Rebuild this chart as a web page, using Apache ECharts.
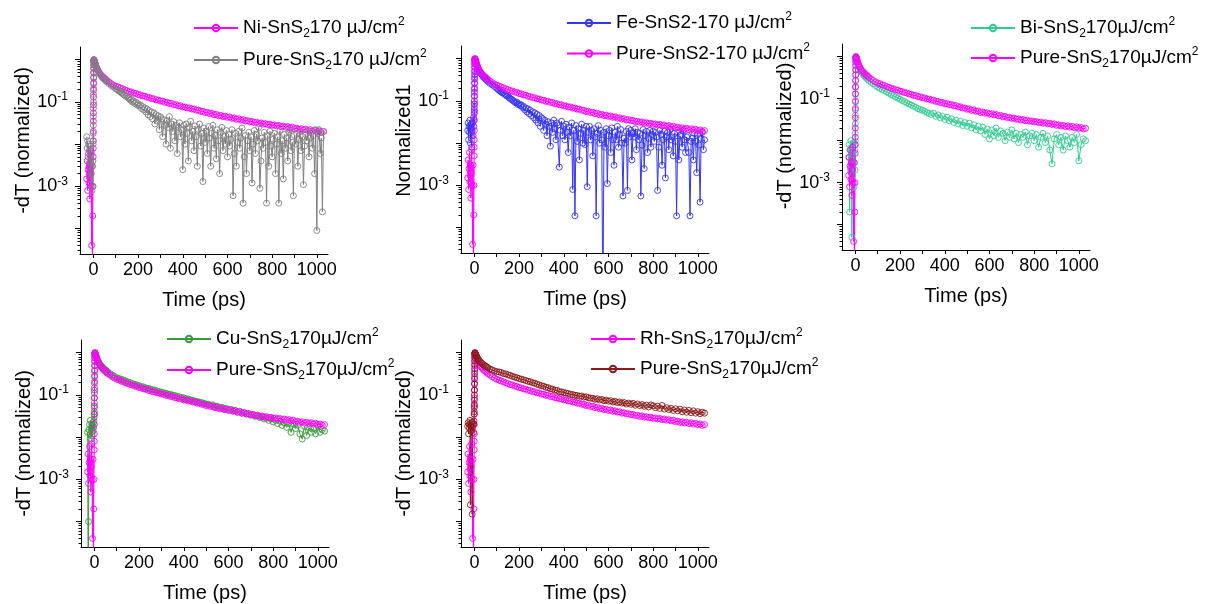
<!DOCTYPE html>
<html><head><meta charset="utf-8">
<script src="https://cdn.jsdelivr.net/npm/echarts@6/dist/echarts.min.js"></script>
<style>html,body{margin:0;padding:0;background:#fff}#c{width:1208px;height:604px}</style>
</head><body><div id="c"></div>
<script>
// ---------------- DATA ----------------
// time axis, ps: common head (pre-zero, rise, early decay) + tails
const timeHead = [
 -30,-28,-26,-24,-22,-20,-18,-16,-14,-12,-10,-8,-6,-4,-3,-2,-1,
 -0.8,-0.6,-0.4,-0.2,0,0.2,0.4,0.6,0.8,1,1.2,1.4,1.6,1.8,2,2.5,3,
 4,6,8,10,13,16,20,25,30,35,40,45,50,55,60,70,80,90,100];
const timeTail10 = [
 110,120,130,140,150,160,170,180,190,200,
 210,220,230,240,250,260,270,280,290,300,
 310,320,330,340,350,360,370,380,390,400,
 410,420,430,440,450,460,470,480,490,500,
 510,520,530,540,550,560,570,580,590,600,
 610,620,630,640,650,660,670,680,690,700,
 710,720,730,740,750,760,770,780,790,800,
 810,820,830,840,850,860,870,880,890,900,
 910,920,930,940,950,960,970,980,990,1000,
 1010,1020,1030];
const timeTail5 = [
 105,110,115,120,125,130,135,140,145,150,155,160,165,170,175,180,185,190,195,200,
 205,210,215,220,225,230,235,240,245,250,255,260,265,270,275,280,285,290,295,300,
 305,310,315,320,325,330,335,340,345,350,355,360,365,370,375,380,385,390,395,400,
 405,410,415,420,425,430,435,440,445,450,455,460,465,470,475,480,485,490,495,500,
 505,510,515,520,525,530,535,540,545,550,555,560,565,570,575,580,585,590,595,600,
 605,610,615,620,625,630,635,640,645,650,655,660,665,670,675,680,685,690,695,700,
 705,710,715,720,725,730,735,740,745,750,755,760,765,770,775,780,785,790,795,800,
 805,810,815,820,825,830,835,840,845,850,855,860,865,870,875,880,885,890,895,900,
 905,910,915,920,925,930,935,940,945,950,955,960,965,970,975,980,985,990,995,1000,
 1005,1010,1015,1020,1025,1030];

// magenta trace (same curve in all five panels) — head + 10 ps tail
const magentaTrace = [
 0.0015,0.004,0.0008,0.0025,0.006,0.0012,0.003,0.0005,0.002,0.007,0.001,0.00004,0.003,0.000001,0.0002,0.001,0.005,
 0.008,0.012,0.02,0.035,0.055,0.085,0.13,0.19,0.27,0.37,0.49,0.62,0.75,0.87,0.96,1.0,0.97,
 0.93,0.86,0.8,0.75,0.68,0.62,0.56,0.5,0.46,0.43,0.4,0.38,0.36,0.34,0.32,0.295,0.27,0.25,0.235,
 0.226,0.213,0.206,0.193,0.186,0.176,0.172,0.162,0.159,0.15,
 0.147,0.139,0.137,0.129,0.127,0.12,0.119,0.112,0.111,0.105,
 0.104,0.098,0.098,0.092,0.092,0.086,0.086,0.081,0.081,0.076,
 0.076,0.072,0.072,0.068,0.068,0.064,0.064,0.06,0.06,0.056,
 0.057,0.053,0.054,0.05,0.051,0.047,0.048,0.045,0.046,0.043,
 0.044,0.041,0.042,0.039,0.04,0.037,0.038,0.0355,0.036,0.034,
 0.0345,0.0325,0.033,0.031,0.0318,0.0298,0.0305,0.029,0.0295,0.028,
 0.0285,0.027,0.0277,0.026,0.0268,0.0252,0.026,0.0243,0.0252,0.0232,
 0.0238,0.0224,0.0231,0.0217,0.0225,0.021,0.0219,0.0204,0.0213,0.0198,
 0.0205,0.019,0.0198];

// Pure-SnS2 (grey, panel 1) — head + 5 ps tail
const greyPure = [
 0.015,0.008,0.012,0.005,0.01,0.003,0.007,0.0015,0.009,0.004,0.002,0.006,0.0008,0.003,0.001,0.004,0.01,
 0.012,0.018,0.028,0.045,0.07,0.1,0.15,0.21,0.29,0.39,0.5,0.63,0.76,0.88,0.96,1.0,0.97,
 0.93,0.86,0.8,0.74,0.67,0.61,0.55,0.49,0.45,0.41,0.38,0.36,0.34,0.32,0.3,0.27,0.245,0.225,0.205,
 0.2,0.19,0.18,0.175,0.165,0.16,0.15,0.145,0.135,0.14,0.125,0.12,0.11,0.115,0.1,0.105,0.092,0.098,0.085,0.09,
 0.08,0.085,0.07,0.078,0.065,0.072,0.058,0.068,0.05,0.062,0.045,0.058,0.04,0.055,0.03,0.05,0.035,0.047,0.022,0.044,
 0.04,0.015,0.038,0.028,0.01,0.036,0.025,0.045,0.008,0.03,0.02,0.034,0.012,0.028,0.006,0.025,0.032,0.015,0.022,0.0025,
 0.028,0.01,0.03,0.018,0.004,0.025,0.035,0.012,0.02,0.007,0.027,0.015,0.003,0.022,0.03,0.009,0.018,0.0013,0.024,0.011,
 0.02,0.006,0.026,0.014,0.003,0.018,0.028,0.008,0.016,0.0045,0.022,0.012,0.002,0.019,0.025,0.007,0.015,0.01,0.021,0.005,
 0.017,0.009,0.013,0.022,0.0006,0.006,0.018,0.003,0.011,0.02,0.008,0.014,0.024,0.0004,0.005,0.016,0.002,0.012,0.019,0.007,
 0.015,0.0012,0.01,0.021,0.006,0.017,0.012,0.025,0.0009,0.004,0.014,0.008,0.019,0.011,0.0004,0.016,0.003,0.02,0.009,0.005,
 0.013,0.018,0.002,0.01,0.015,0.0004,0.021,0.006,0.012,0.0015,0.017,0.008,0.014,0.004,0.019,0.022,0.007,0.011,0.0006,0.016,
 0.01,0.018,0.003,0.013,0.02,0.007,0.015,0.0011,0.009,0.017,0.012,0.021,0.005,0.014,0.019,0.008,0.016,0.002,0.022,0.00009,
 0.018,0.022,0.006,0.014,0.00025,0.02];

// Fe-SnS2 (blue, panel 2) — head + 5 ps tail
const feSnS2 = [
 0.02,0.03,0.012,0.025,0.018,0.035,0.01,0.022,0.028,0.008,0.02,0.03,0.015,0.04,0.025,0.035,0.05,
 0.06,0.07,0.085,0.1,0.13,0.16,0.2,0.26,0.33,0.42,0.52,0.63,0.75,0.86,0.95,1.0,0.96,
 0.92,0.85,0.79,0.73,0.66,0.6,0.54,0.48,0.44,0.4,0.37,0.35,0.33,0.31,0.29,0.26,0.24,0.22,0.2,
 0.19,0.18,0.17,0.165,0.155,0.16,0.145,0.14,0.13,0.135,0.12,0.115,0.11,0.105,0.1,0.095,0.09,0.093,0.082,0.085,
 0.078,0.08,0.07,0.074,0.062,0.068,0.055,0.065,0.05,0.06,0.045,0.055,0.04,0.052,0.035,0.048,0.03,0.045,0.025,0.04,
 0.038,0.02,0.035,0.028,0.015,0.032,0.025,0.0085,0.03,0.018,0.035,0.022,0.012,0.03,0.027,0.0027,0.02,0.033,0.015,0.025,
 0.012,0.028,0.018,0.006,0.024,0.015,0.03,0.0008,0.02,0.00019,0.026,0.011,0.022,0.004,0.017,0.028,0.01,0.02,0.0093,0.025,
 0.00093,0.018,0.025,0.012,0.02,0.005,0.022,0.014,0.00019,0.017,0.026,0.01,0.02,0.012,0.000001,0.018,0.008,0.022,0.0011,0.015,
 0.02,0.006,0.023,0.012,0.003,0.018,0.012,0.025,0.008,0.016,0.021,0.01,0.00056,0.013,0.01,0.019,0.00076,0.022,0.014,0.02,
 0.004,0.017,0.014,0.022,0.007,0.018,0.012,0.017,0.00056,0.009,0.021,0.0025,0.015,0.019,0.006,0.013,0.02,0.008,0.016,0.019,
 0.011,0.018,0.014,0.00076,0.008,0.02,0.016,0.003,0.012,0.019,0.0015,0.014,0.018,0.007,0.021,0.012,0.014,0.005,0.017,0.011,
 0.00019,0.018,0.004,0.015,0.016,0.008,0.02,0.012,0.006,0.014,0.015,0.006,0.00019,0.011,0.013,0.004,0.017,0.011,0.002,0.016,
 0.009,0.0004,0.013,0.018,0.007,0.012];

// Bi-SnS2 (teal, panel 3) — head + 10 ps tail
const biSnS2 = [
 0.004,0.008,0.0002,0.006,0.002,0.01,0.0035,0.00005,0.007,0.0015,0.005,0.009,0.0008,0.003,0.006,0.002,0.008,
 0.01,0.015,0.025,0.04,0.06,0.09,0.13,0.19,0.27,0.37,0.48,0.61,0.74,0.86,0.95,1.0,0.96,
 0.91,0.84,0.78,0.72,0.65,0.58,0.52,0.46,0.42,0.38,0.35,0.33,0.31,0.29,0.27,0.245,0.225,0.205,0.19,
 0.175,0.165,0.155,0.145,0.135,0.125,0.118,0.11,0.103,0.097,
 0.09,0.085,0.08,0.074,0.07,0.066,0.062,0.058,0.055,0.053,
 0.05,0.047,0.045,0.042,0.045,0.038,0.041,0.035,0.038,0.032,
 0.036,0.03,0.033,0.027,0.031,0.025,0.029,0.023,0.027,0.022,
 0.026,0.02,0.024,0.018,0.022,0.017,0.021,0.014,0.019,0.011,
 0.018,0.013,0.02,0.012,0.017,0.015,0.01,0.016,0.012,0.018,
 0.011,0.015,0.009,0.014,0.012,0.016,0.008,0.013,0.015,0.01,
 0.014,0.007,0.012,0.015,0.009,0.013,0.006,0.0028,0.011,0.014,
 0.008,0.012,0.006,0.013,0.01,0.007,0.012,0.009,0.014,0.0033,
 0.008,0.011,0.01];

// Cu-SnS2 (green, panel 4) — head + 10 ps tail
const cuSnS2 = [
 0.013,0.000001,0.0001,0.015,0.02,0.012,0.025,0.009,0.016,0.02,0.011,0.018,0.014,0.022,0.017,0.025,0.03,
 0.035,0.04,0.05,0.065,0.085,0.11,0.15,0.21,0.29,0.39,0.5,0.63,0.76,0.88,0.96,1.0,0.97,
 0.94,0.87,0.81,0.76,0.7,0.64,0.58,0.53,0.49,0.46,0.43,0.41,0.39,0.37,0.35,0.32,0.295,0.275,0.255,
 0.245,0.235,0.225,0.213,0.203,0.195,0.186,0.178,0.172,0.165,
 0.158,0.155,0.147,0.143,0.138,0.132,0.13,0.124,0.12,0.117,
 0.112,0.11,0.105,0.103,0.099,0.097,0.092,0.09,0.087,0.085,
 0.081,0.08,0.076,0.075,0.071,0.07,0.067,0.066,0.063,0.061,
 0.06,0.057,0.058,0.053,0.054,0.05,0.051,0.047,0.048,0.044,
 0.046,0.042,0.043,0.039,0.041,0.037,0.038,0.035,0.036,0.033,
 0.034,0.031,0.032,0.029,0.03,0.027,0.028,0.025,0.027,0.023,
 0.025,0.021,0.024,0.019,0.022,0.017,0.021,0.013,0.02,0.016,
 0.019,0.012,0.009,0.018,0.011,0.017,0.013,0.016,0.012,0.018,
 0.013,0.015,0.014];

// Pure-SnS2 (brown, panel 5) — head + 10 ps tail
const brownPure = [
 0.018,0.022,0.012,0.02,0.016,0.025,0.00025,0.019,0.014,0.023,0.00015,0.017,0.021,0.013,0.02,0.024,0.035,
 0.04,0.05,0.06,0.075,0.1,0.13,0.18,0.24,0.32,0.42,0.53,0.65,0.77,0.88,0.96,1.0,0.98,
 0.95,0.9,0.86,0.82,0.77,0.72,0.67,0.62,0.58,0.55,0.52,0.5,0.48,0.46,0.44,0.41,0.39,0.37,0.355,
 0.35,0.34,0.32,0.315,0.3,0.29,0.275,0.265,0.255,0.245,
 0.235,0.228,0.22,0.21,0.205,0.195,0.19,0.18,0.172,0.165,
 0.16,0.152,0.148,0.14,0.137,0.13,0.128,0.12,0.118,0.114,
 0.11,0.108,0.103,0.102,0.098,0.097,0.093,0.094,0.089,0.09,
 0.086,0.084,0.083,0.079,0.081,0.076,0.078,0.073,0.075,0.071,
 0.073,0.068,0.07,0.066,0.068,0.064,0.066,0.061,0.064,0.06,
 0.063,0.057,0.061,0.056,0.059,0.054,0.057,0.052,0.058,0.055,
 0.05,0.054,0.048,0.056,0.046,0.05,0.045,0.048,0.043,0.047,
 0.042,0.046,0.04,0.044,0.039,0.043,0.038,0.042,0.037,0.04,
 0.036,0.039,0.037];

const xLabelValues = [0, 200, 400, 600, 800, 1000];
const xTickValues = [0, 100, 200, 300, 400, 500, 600, 700, 800, 900, 1000];
const yLabelValues = [0.1, 0.001];
const yDecadeTicks = [1, 0.1, 0.01, 0.001, 0.0001];
const X_MIN = -60, X_MAX = 1050, Y_MIN = 2.5e-5, Y_MAX = 2;

// ---------------- LAYOUT / STYLE ----------------
const FONT = '"Liberation Sans", Arial, sans-serif';
const legendRich = {
  b: {fontFamily: FONT, fontSize: 19, lineHeight: 24, color: '#000'},
  sub: {fontFamily: FONT, fontSize: 12, lineHeight: 12, verticalAlign: 'bottom', color: '#000'},
  sup: {fontFamily: FONT, fontSize: 12, lineHeight: 12, verticalAlign: 'top', color: '#000'}
};
const axisRich = {
  b: {fontFamily: FONT, fontSize: 18, lineHeight: 22, color: '#000'},
  sup: {fontFamily: FONT, fontSize: 12, lineHeight: 11, verticalAlign: 'top', color: '#000'}
};
const yMinorTicks = [];
[-5, -4, -3, -2, -1, 0].forEach(e => { for (let k = 2; k <= 9; k++) { const v = k * Math.pow(10, e); if (v > Y_MIN && v < Y_MAX) yMinorTicks.push(v); } });

const timeCoarse = timeHead.concat(timeTail10);
const timeFine = timeHead.concat(timeTail5);

const panels = [
  {grid: {left: 80, top: 47, width: 248, height: 207}, yName: '-dT (normalized)', nameShift: 20,
   legend: {left: 193, top: 16, gap: 8},
   series: [
     {name: 'p1a', text: '{b|Ni-SnS}{sub|2}{b|170 µJ/cm}{sup|2}', t: timeCoarse, y: magentaTrace, color: '#FF00FF'},
     {name: 'p1b', text: '{b|Pure-SnS}{sub|2}{b|170 µJ/cm}{sup|2}', t: timeFine, y: greyPure, color: '#808080'}]},
  {grid: {left: 461, top: 46, width: 248, height: 207}, yName: 'Normalized1', nameShift: 18,
   legend: {left: 566, top: 11, gap: 9},
   series: [
     {name: 'p2a', text: '{b|Fe-SnS2-170 µJ/cm}{sup|2}', t: timeFine, y: feSnS2, color: '#3535F5'},
     {name: 'p2b', text: '{b|Pure-SnS2-170 µJ/cm}{sup|2}', t: timeCoarse, y: magentaTrace, color: '#FF00FF'}]},
  {grid: {left: 842, top: 44, width: 248, height: 206}, yName: '-dT (normalized)', nameShift: 22,
   legend: {left: 970, top: 16, gap: 6},
   series: [
     {name: 'p3a', text: '{b|Bi-SnS}{sub|2}{b|170µJ/cm}{sup|2}', t: timeCoarse, y: biSnS2, color: '#2ECC8F'},
     {name: 'p3b', text: '{b|Pure-SnS}{sub|2}{b|170µJ/cm}{sup|2}', t: timeCoarse, y: magentaTrace, color: '#FF00FF'}]},
  {grid: {left: 81, top: 340, width: 248, height: 207}, yName: '-dT (normalized)', nameShift: 0,
   legend: {left: 166, top: 327, gap: 7},
   series: [
     {name: 'p4a', text: '{b|Cu-SnS}{sub|2}{b|170µJ/cm}{sup|2}', t: timeCoarse, y: cuSnS2, color: '#3A9A3A'},
     {name: 'p4b', text: '{b|Pure-SnS}{sub|2}{b|170µJ/cm}{sup|2}', t: timeCoarse, y: magentaTrace, color: '#FF00FF'}]},
  {grid: {left: 461, top: 340, width: 248, height: 207}, yName: '-dT (normalized)', nameShift: 0,
   legend: {left: 590, top: 327, gap: 6},
   series: [
     {name: 'p5a', text: '{b|Rh-SnS}{sub|2}{b|170µJ/cm}{sup|2}', t: timeCoarse, y: magentaTrace, color: '#FF00FF'},
     {name: 'p5b', text: '{b|Pure-SnS}{sub|2}{b|170µJ/cm}{sup|2}', t: timeCoarse, y: brownPure, color: '#8B1A1A'}]}
];

const labelText = {};
panels.forEach(p => p.series.forEach(s => { labelText[s.name] = s.text; }));

const option = {animation: false, backgroundColor: '#fff', grid: [], xAxis: [], yAxis: [], series: [], legend: []};
const nameStyle = {fontFamily: FONT, fontSize: 20, color: '#000'};

panels.forEach((p, i) => {
  option.grid.push({left: p.grid.left, top: p.grid.top, width: p.grid.width, height: p.grid.height, containLabel: false, outerBoundsMode: 'none'});
  option.xAxis.push({
    type: 'value', gridIndex: i, min: X_MIN, max: X_MAX,
    name: 'Time (ps)', nameLocation: 'middle', nameGap: 36, nameTextStyle: nameStyle,
    axisLine: {show: true, onZero: false, lineStyle: {color: '#000', width: 1}},
    axisTick: {show: true, length: 4, customValues: xTickValues, lineStyle: {color: '#000', width: 1}},
    axisLabel: {customValues: xLabelValues, formatter: v => String(v), fontFamily: FONT, fontSize: 18, color: '#000', margin: 7},
    splitLine: {show: false}
  });
  option.yAxis.push({
    type: 'log', logBase: 10, gridIndex: i, min: Y_MIN, max: Y_MAX, position: 'left',
    name: p.yName, nameLocation: 'middle', nameGap: 44,
    nameTextStyle: Object.assign({padding: [0, 0, 0, p.nameShift]}, nameStyle),
    axisLine: {show: true, onZero: false, lineStyle: {color: '#000', width: 1}},
    axisTick: {show: true, length: 5, customValues: yDecadeTicks, lineStyle: {color: '#000', width: 1}},
    axisLabel: {customValues: yLabelValues, margin: 12,
      formatter: v => '{b|10}{sup|' + Math.round(Math.log10(v)) + '}', rich: axisRich},
    splitLine: {show: false}
  });
  option.yAxis.push({
    type: 'log', logBase: 10, gridIndex: i, min: Y_MIN, max: Y_MAX, position: 'left',
    axisLine: {show: false, onZero: false},
    axisTick: {show: true, length: 2.5, customValues: yMinorTicks, lineStyle: {color: '#000', width: 1}},
    axisLabel: {show: false}, splitLine: {show: false}
  });
  p.series.forEach(s => {
    option.series.push({
      type: 'line', name: s.name, xAxisIndex: i, yAxisIndex: 2 * i,
      data: s.t.map((t, k) => [t, s.y[k]]),
      symbol: 'circle', symbolSize: 6, showSymbol: true, showAllSymbol: true, clip: true,
      lineStyle: {color: s.color, width: 1},
      itemStyle: {color: 'rgba(255,255,255,0)', borderColor: s.color, borderWidth: 0.9},
      emphasis: {disabled: true}
    });
  });
  option.legend.push({
    left: p.legend.left, top: p.legend.top, orient: 'vertical', itemGap: p.legend.gap,
    itemWidth: 44, itemHeight: 8, padding: 0, selectedMode: false,
    data: p.series.map(s => s.name),
    formatter: n => labelText[n],
    textStyle: {rich: legendRich}
  });
});

const chart = echarts.init(document.getElementById('c'), null, {renderer: 'canvas'});
chart.setOption(option);
</script>
</body></html>
